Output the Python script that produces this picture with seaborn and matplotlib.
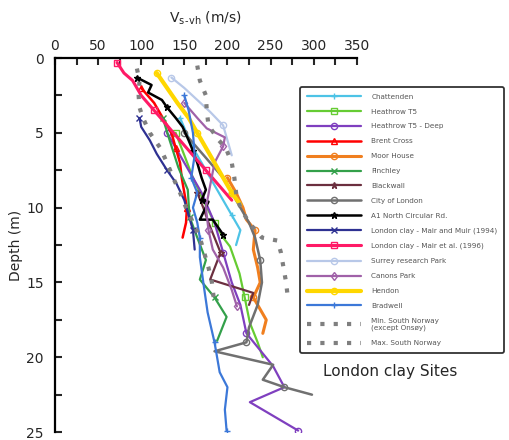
import matplotlib
matplotlib.use("Agg")
import matplotlib.pyplot as plt
import seaborn as sns
from matplotlib.ticker import MultipleLocator

# velocity (m/s) and depth (m)
chattenden_v = [145, 160, 175, 190, 205, 215, 210]
chattenden_d = [4, 6, 7.5, 9, 10.5, 11.5, 12.5]

heathrow_v = [140, 150, 160, 172, 185, 195, 203, 214, 220, 226, 235, 241]
heathrow_d = [5, 6.5, 8, 9.5, 11, 12, 12.6, 14.4, 16, 17.7, 19, 20]

heathrow_deep_v = [130, 150, 170, 185, 195, 200, 205, 215, 222, 253, 266, 226, 282]
heathrow_deep_d = [5, 7, 9, 11, 13, 14, 15, 16.5, 18.4, 20.6, 22, 23, 24.9]

brent_v = [100, 115, 125, 135, 140, 145, 147, 150, 153, 152, 148]
brent_d = [2, 3, 4, 5, 6, 7, 8, 9, 10, 11, 12]

moor_v = [200, 210, 218, 222, 232, 230, 235, 238, 230, 245, 241]
moor_d = [8, 9, 10, 10.8, 11.5, 12.8, 14, 15, 16, 17.5, 18.4]

finchley_v = [125, 133, 143, 154, 156, 165, 175, 168, 185, 199, 188]
finchley_d = [4, 5.5, 7.3, 8.8, 10.6, 12, 13.5, 14.8, 16, 17.3, 18.9]

blackwall_v = [165, 172, 178, 185, 192, 180, 230, 225]
blackwall_d = [9, 10, 11, 12, 13, 14.8, 15.7, 16.5]

city_v = [150, 165, 180, 195, 205, 215, 225, 232, 238, 240, 235, 225, 222, 185, 253, 241, 266, 298]
city_d = [5, 6, 7, 8, 9, 10, 11, 12, 13.5, 15, 16.5, 18, 19, 19.6, 20.5, 21.5, 22, 22.5]

a1_v = [95, 112, 108, 124, 130, 140, 148, 155, 160, 165, 170, 175, 170, 178, 168, 183, 195]
a1_d = [1.3, 1.8, 2.3, 2.8, 3.3, 4, 4.6, 5.5, 6.2, 7, 8, 8.8, 9.5, 9.6, 10.8, 10.8, 11.8]

mair94_v = [98, 100, 110, 118, 130, 141, 150, 155, 160, 162]
mair94_d = [4, 4.6, 5.5, 6.4, 7.5, 8.4, 9.5, 10.5, 11.5, 12.8]

mair96_v = [72, 80, 90, 100, 115, 130, 145, 160, 175, 190, 205]
mair96_d = [0.3, 1, 1.5, 2.5, 3.5, 4.5, 5.5, 6.5, 7.5, 8.5, 9.5]

surrey_v = [135, 150, 165, 180, 195, 200, 205]
surrey_d = [1.3, 2, 2.8, 3.6, 4.5, 5.5, 6.5]

canons_v = [150, 165, 176, 197, 195, 185, 180, 175, 178, 183, 195, 205, 211]
canons_d = [3, 4, 4.7, 5.3, 5.9, 7, 8.5, 10, 11.5, 12.8, 14, 15.5, 16.6]

hendon_v = [118, 130, 142, 155, 165, 175, 185, 195, 205, 215]
hendon_d = [1, 2, 3, 4, 5, 6, 7, 8, 9, 9.8]

bradwell_v = [150, 155, 160, 162, 158, 165, 160, 165, 168, 168, 172, 177, 185, 191, 200, 197, 199]
bradwell_d = [2.5, 3.5, 5, 6.5, 8, 9, 10, 11, 12, 13.3, 15, 17, 19, 21, 22, 23.5, 24.9]

nor_min_v = [95, 98, 97, 98, 102, 110, 122, 130, 137, 145, 152, 160, 168, 173, 178, 182, 184]
nor_min_d = [0.7, 1.5, 2.5, 3.3, 4, 5, 6, 7, 8, 9, 10, 11, 12, 13, 14, 15, 16]

nor_max_v = [165, 168, 175, 176, 178, 190, 198, 205, 208, 210, 215, 225, 240, 258, 262, 265, 268, 270]
nor_max_d = [0.5, 1.5, 2.5, 3.5, 4.5, 5.5, 6, 7, 8, 9, 10, 11, 12, 12.2, 13, 14, 15, 16]

series = [
    ("Chattenden", chattenden_v, chattenden_d, "#4dc3e6", "+", 1.6),
    ("Heathrow T5", heathrow_v, heathrow_d, "#66cc33", "s", 1.6),
    ("Heathrow T5 - Deep", heathrow_deep_v, heathrow_deep_d, "#7f3fbf", "o", 1.6),
    ("Brent Cross", brent_v, brent_d, "#ff0000", "^", 1.8),
    ("Moor House", moor_v, moor_d, "#f07f1f", "o", 2.2),
    ("Finchley", finchley_v, finchley_d, "#33a04a", "x", 1.6),
    ("Blackwall", blackwall_v, blackwall_d, "#6b2f3f", "*", 1.6),
    ("City of London", city_v, city_d, "#707070", "o", 1.8),
    ("A1 North Circular Rd.", a1_v, a1_d, "#000000", "*", 1.8),
    ("London clay - Mair and Muir (1994)", mair94_v, mair94_d, "#2e3192", "x", 1.6),
    ("London clay - Mair et al. (1996)", mair96_v, mair96_d, "#ff1a66", "s", 2.2),
    ("Surrey research Park", surrey_v, surrey_d, "#b8c8e8", "o", 1.6),
    ("Canons Park", canons_v, canons_d, "#a061a8", "d", 1.6),
    ("Hendon", hendon_v, hendon_d, "#ffd700", "o", 3.0),
    ("Bradwell", bradwell_v, bradwell_d, "#3c78d8", "+", 1.6),
]

sns.set_style("white")
fig = plt.figure(figsize=(5.09, 4.4), dpi=100)
ax = fig.add_axes([0.108, 0.018, 0.593, 0.85])

for name, v, d, col, mk, lw in series:
    sns.lineplot(x=v, y=d, sort=False, estimator=None, ax=ax, color=col,
                 linewidth=lw, marker=mk, markersize=4.5, mfc="none", mec=col,
                 mew=1.0, markevery=4, label=name)

sns.lineplot(x=nor_min_v, y=nor_min_d, sort=False, estimator=None, ax=ax,
             color="#7f7f7f", linewidth=3, linestyle=(0, (1, 2.2)),
             label="Min. South Norway\n(except Onsøy)")
sns.lineplot(x=nor_max_v, y=nor_max_d, sort=False, estimator=None, ax=ax,
             color="#7f7f7f", linewidth=3, linestyle=(0, (1, 2.2)),
             label="Max. South Norway")

ax.set_xlim(0, 350)
ax.set_ylim(25, 0)
ax.xaxis.tick_top()
ax.xaxis.set_label_position("top")
ax.xaxis.set_major_locator(MultipleLocator(50))
ax.xaxis.set_minor_locator(MultipleLocator(25))
ax.yaxis.set_major_locator(MultipleLocator(5))
ax.yaxis.set_minor_locator(MultipleLocator(2.5))
ax.tick_params(which="both", direction="in", width=1.5, length=5,
               top=True, bottom=False, left=True, right=False, labelsize=10)
ax.tick_params(axis="y", pad=8)
for s in ["right", "bottom"]:
    ax.spines[s].set_visible(False)
for s in ["top", "left"]:
    ax.spines[s].set_linewidth(1.6)
    ax.spines[s].set_color("black")

ax.set_xlabel("V$_{\\mathrm{s}}$$_{\u2010}$$_{\\mathrm{vh}}$ (m/s)", fontsize=10, labelpad=12)
ax.set_ylabel("Depth (m)", fontsize=10, labelpad=2)

leg = ax.legend(loc="upper left", bbox_to_anchor=(0.583, 0.81), bbox_transform=fig.transFigure,
                fontsize=5.2, handlelength=7.5, frameon=True, fancybox=True,
                labelspacing=1.22, borderpad=0.9, handletextpad=1.4)
leg.get_frame().set_edgecolor("black")
leg.get_frame().set_linewidth(1.3)
for t in leg.get_texts():
    t.set_color("#555555")

fig.text(0.766, 0.155, "London clay Sites", fontsize=11, ha="center", va="center")

fig.savefig("out.png", dpi=100)
